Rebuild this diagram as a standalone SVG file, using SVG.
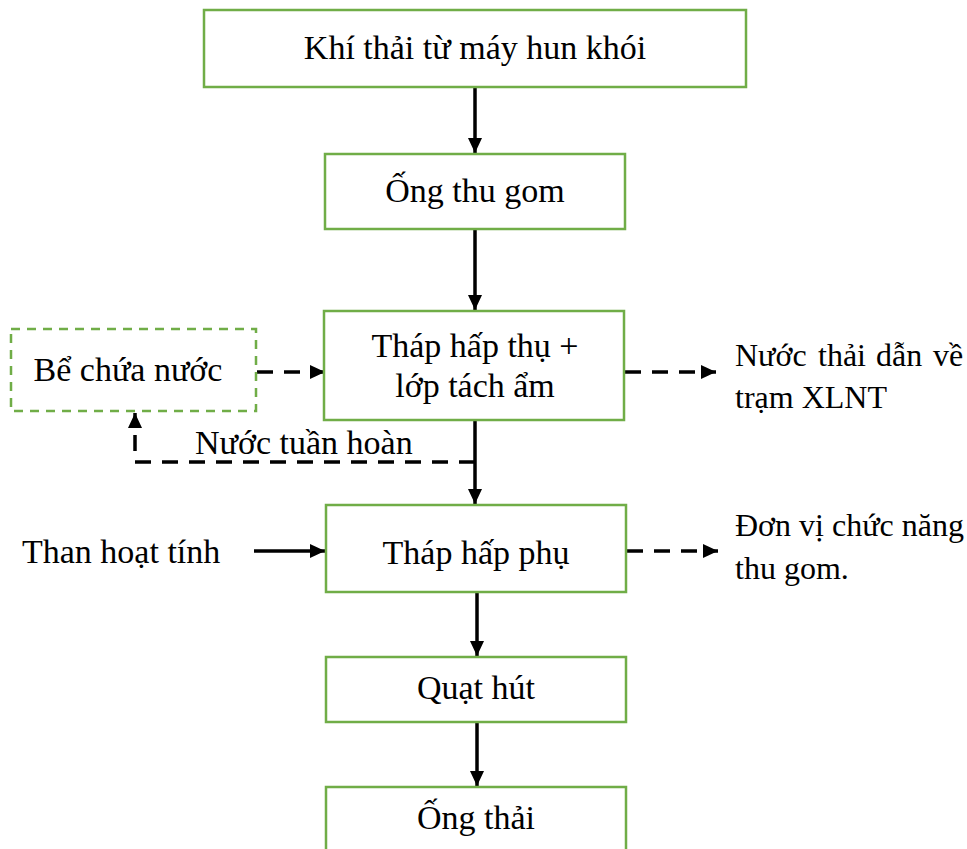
<svg xmlns="http://www.w3.org/2000/svg" width="967" height="849" viewBox="0 0 967 849">
<style>
.box{fill:#fff;stroke:#70AD47;stroke-width:2.5}
.dbox{fill:#fff;stroke:#70AD47;stroke-width:2.5;stroke-dasharray:9 7}
.t{font-family:"Liberation Serif","Times New Roman",serif;font-size:34px;fill:#000}
.s{font-size:32px}
.c{text-anchor:middle}
.ln{fill:none;stroke:#000;stroke-width:3.5}
.dl{fill:none;stroke:#000;stroke-width:3.5;stroke-dasharray:16 11}
</style>
<defs>
<marker id="ah" markerUnits="userSpaceOnUse" markerWidth="16" markerHeight="16" refX="15" refY="7" orient="auto">
<path d="M0,0 L15,7 L0,14 Z" fill="#000"/>
</marker>
</defs>
<rect width="967" height="849" fill="#fff"/>
<g id="connectors">
<line class="ln" x1="475" y1="87" x2="475" y2="153" marker-end="url(#ah)"/>
<line class="ln" x1="475" y1="229" x2="475" y2="310" marker-end="url(#ah)"/>
<line class="ln" x1="475" y1="420" x2="475" y2="504" marker-end="url(#ah)"/>
<line class="ln" x1="477" y1="593" x2="477" y2="656" marker-end="url(#ah)"/>
<line class="ln" x1="477" y1="722" x2="477" y2="786" marker-end="url(#ah)"/>
<line class="dl" x1="257" y1="372" x2="325" y2="372" marker-end="url(#ah)"/>
<polyline class="dl" points="475,462 135,462 135,413" marker-end="url(#ah)"/>
<line class="dl" x1="625" y1="372" x2="716" y2="372" marker-end="url(#ah)"/>
<line class="ln" x1="254" y1="551" x2="325" y2="551" marker-end="url(#ah)"/>
<line class="dl" x1="627" y1="551" x2="718" y2="551" marker-end="url(#ah)"/>
</g>
<g id="n1"><rect class="box" x="204" y="10" width="542" height="77"/><text class="t c" x="475" y="59">Khí thải từ máy hun khói</text></g>
<g id="n2"><rect class="box" x="325" y="154" width="300" height="75"/><text class="t c" x="475" y="202">Ống thu gom</text></g>
<g id="n3"><rect class="box" x="324" y="311" width="300" height="109"/><text class="t c" x="475" y="357">Tháp hấp thụ +</text><text class="t c" x="475" y="397">lớp tách ẩm</text></g>
<g id="n4"><rect class="dbox" x="11" y="329" width="245" height="82"/><text class="t c" x="128" y="381">Bể chứa nước</text></g>
<g id="n5"><rect class="box" x="326" y="505" width="300" height="87"/><text class="t c" x="476" y="564">Tháp hấp phụ</text></g>
<g id="n6"><rect class="box" x="326" y="657" width="300" height="65"/><text class="t c" x="476" y="699">Quạt hút</text></g>
<g id="n7"><rect class="box" x="326" y="787" width="300" height="70"/><text class="t c" x="476" y="829">Ống thải</text></g>
<g id="l1"><text class="t" x="22" y="563">Than hoạt tính</text></g>
<g id="l2"><text class="t s" y="366"><tspan x="735">Nước</tspan><tspan x="818">thải</tspan><tspan x="876">dẫn</tspan><tspan x="933">về</tspan></text><text class="t s" x="735" y="408">trạm XLNT</text></g>
<g id="l3"><text class="t s" x="735" y="536">Đơn vị chức năng</text><text class="t s" x="735" y="579">thu gom.</text></g>
<g id="l4"><text class="t" x="195" y="454">Nước tuần hoàn</text></g>
</svg>
